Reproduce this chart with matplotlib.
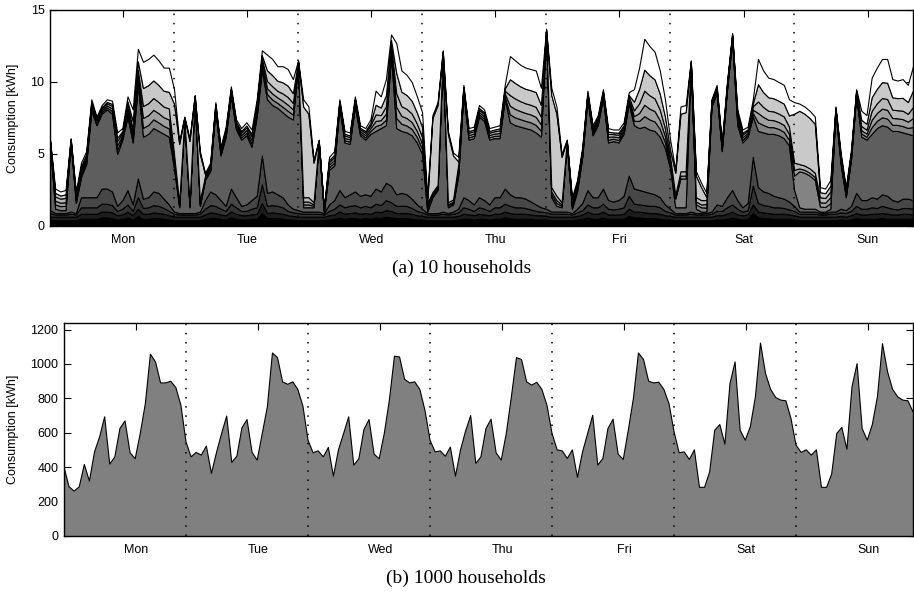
import matplotlib
matplotlib.use('Agg')
import matplotlib.pyplot as plt
import numpy as np

days = ['Mon', 'Tue', 'Wed', 'Thu', 'Fri', 'Sat', 'Sun']
hours = np.arange(168)

# ---- 10 households, hourly consumption [kWh] (bottom layer first) ----
h1 = [.4,.4,.4,.4,.4,.4,.5,.5,.5,.5,.6,.6,.55,.45,.5,.6,.45,.7,.5,.5,.55,.55,.5,.45,
      .4,.4,.4,.4,.4,.4,.5,.55,.55,.5,.45,.6,.5,.45,.45,.5,.5,.9,.55,.55,.55,.5,.45,.45,
      .4,.4,.4,.4,.4,.4,.45,.5,.6,.5,.55,.55,.5,.55,.5,.6,.55,.65,.6,.55,.55,.55,.5,.45,
      .45,.4,.4,.4,.4,.4,.4,.45,.5,.5,.45,.5,.5,.45,.5,.5,.6,.55,.5,.5,.5,.5,.45,.45,
      .45,.4,.4,.4,.4,.4,.45,.5,.6,.5,.5,.6,.5,.5,.5,.5,.7,.6,.6,.55,.55,.55,.5,.45,
      .45,.4,.4,.4,.4,.4,.4,.4,.4,.45,.45,.5,.6,.5,.45,.5,.9,.6,.55,.55,.5,.5,.5,.5,
      .45,.4,.4,.4,.4,.4,.4,.4,.4,.45,.4,.45,.55,.5,.5,.5,.5,.55,.5,.5,.5,.5,.5,.5]
h2 = [.25,.25,.25,.25,.25,.25,.35,.35,.35,.35,.4,.4,.4,.3,.3,.4,.3,.5,.35,.35,.4,.35,.35,.3,
      .25,.25,.25,.25,.25,.25,.3,.4,.35,.3,.3,.4,.35,.3,.3,.3,.35,.7,.35,.4,.35,.35,.3,.25,
      .25,.25,.25,.25,.25,.25,.3,.3,.4,.35,.35,.4,.35,.35,.35,.4,.4,.45,.45,.35,.35,.35,.35,.3,
      .25,.25,.25,.25,.25,.25,.25,.25,.35,.3,.3,.35,.3,.3,.35,.35,.4,.35,.35,.35,.35,.3,.3,.3,
      .25,.25,.25,.25,.25,.25,.25,.3,.4,.35,.35,.4,.3,.3,.3,.35,.5,.4,.4,.4,.35,.35,.35,.3,
      .25,.25,.25,.25,.25,.25,.25,.25,.25,.3,.3,.35,.4,.3,.3,.3,.6,.4,.4,.35,.35,.35,.35,.3,
      .3,.25,.25,.25,.25,.25,.25,.25,.25,.25,.25,.3,.35,.3,.3,.35,.35,.35,.35,.3,.3,.35,.35,.3]
h3 = [.25,.15,.15,.15,.2,.15,.45,.45,.45,.45,.55,.55,.5,.3,.4,.5,.3,.8,.4,.45,.5,.5,.4,.3,
      .2,.15,.15,.15,.15,.2,.4,.5,.5,.4,.3,.55,.45,.3,.3,.4,.45,1.3,.5,.5,.5,.45,.3,.25,
      .25,.2,.2,.2,.2,.15,.3,.4,.5,.45,.5,.5,.45,.5,.45,.55,.5,.7,.6,.5,.5,.5,.4,.3,
      .25,.15,.15,.15,.2,.15,.2,.25,.45,.4,.3,.45,.4,.3,.45,.45,.55,.5,.45,.45,.4,.35,.3,.25,
      .25,.2,.2,.2,.2,.15,.25,.3,.5,.45,.45,.55,.4,.35,.4,.45,.9,.55,.5,.5,.5,.5,.45,.3,
      .25,.15,.15,.15,.2,.15,.15,.15,.2,.3,.3,.45,.5,.4,.25,.3,1.3,.6,.5,.5,.45,.45,.4,.35,
      .3,.2,.2,.2,.2,.15,.15,.2,.2,.25,.25,.3,.5,.4,.4,.45,.4,.5,.45,.4,.35,.4,.4,.4]
h4 = [.2,.1,.1,.1,.15,.1,.7,.7,.7,.7,1.05,1.05,.95,.35,.6,1.0,.45,1.3,.65,.7,.95,.9,.65,.45,
      .15,.1,.1,.1,.1,.15,.6,.95,.8,.6,.35,1.05,.7,.35,.45,.6,.8,2.0,.9,.95,.8,.7,.45,.25,
      .2,.15,.15,.15,.15,.1,.45,.6,1.0,.7,.8,.95,.8,.8,.8,1.05,.95,1.2,1.15,.8,.9,.8,.65,.45,
      .25,.1,.1,.1,.15,.1,.15,.25,.7,.6,.45,.7,.6,.45,.7,.7,1.05,.8,.7,.7,.65,.55,.45,.3,
      .25,.15,.15,.15,.15,.1,.25,.5,1.0,.7,.7,1.05,.6,.55,.6,.8,1.4,1.05,1.0,.95,.9,.8,.7,.45,
      .25,.1,.1,.1,.15,.1,.1,.1,.15,.45,.35,.7,1.0,.6,.3,.5,2.0,1.1,.95,.9,.8,.7,.65,.55,
      .35,.15,.15,.15,.15,.1,.1,.15,.15,.25,.2,.35,.9,.6,.6,.7,.65,.8,.8,.6,.55,.65,.65,.6]
h5 = [4.6,.3,.2,.2,4.8,.7,1.4,2.3,6.0,5.0,5.2,5.5,5.4,3.6,4.2,5.1,4.3,6.5,4.3,4.4,4.4,4.3,4.5,4.7,
      3.0,.4,6.4,.4,7.9,.4,1.4,1.4,5.8,3.1,4.8,6.4,4.7,4.6,4.8,3.7,5.5,5.9,6.5,6.0,6.0,5.9,6.1,6.2,
      10.1,.3,.3,.3,4.7,.1,2.4,2.4,5.7,3.8,3.5,5.9,4.2,3.8,4.3,4.0,4.4,4.0,9.0,4.6,4.3,4.3,4.4,4.3,
      3.8,.1,1.1,1.6,10.8,.4,.5,2.3,7.2,4.2,4.6,5.6,5.5,4.5,4.1,4.1,6.2,5.0,5.0,4.9,4.9,5.0,5.0,4.9,
      12.1,1.0,.4,.3,4.7,.3,1.2,3.2,6.3,4.3,5.0,6.3,4.0,4.2,4.0,4.3,5.0,4.4,4.3,4.5,4.4,4.4,4.2,3.9,
      2.8,.4,.4,.4,10.2,.3,.1,.1,7.3,7.7,3.8,7.4,10.4,5.2,4.5,4.6,2.8,3.9,4.1,4.1,4.3,4.3,4.2,3.9,
      1.1,.3,.2,.2,.2,.1,.1,.2,6.9,3.1,.9,3.2,6.7,4.4,4.2,4.4,4.9,4.8,4.8,4.8,4.9,4.6,4.5,4.5]
h6 = [.06,.3,.28,.3,.06,.16,.2,.18,.16,.12,.12,.14,.18,.3,.16,.28,.28,.3,.62,.62,.61,.59,.55,.58,
      .3,.1,.06,.1,.06,.1,.1,.12,.12,.12,.14,.14,.14,.16,.18,.24,.24,.28,.37,.38,.35,.38,.4,.34,
      .06,.2,.2,.1,.06,.04,.18,.2,.12,.16,.16,.14,.14,.16,.2,.34,.26,.38,.3,.71,.5,.48,.44,.38,
      .35,.2,.1,.1,.08,.1,.1,.26,.12,.16,.16,.16,.16,.16,.16,.18,.2,.55,.54,.52,.5,.5,.52,.41,
      .08,.2,.2,.1,.06,.16,.16,.14,.12,.14,.14,.12,.2,.16,.18,.16,.16,.3,.5,.73,.7,.66,.55,.41,
      .24,.6,2.0,2.0,.06,.3,.3,.28,.1,.12,.12,.12,.1,.22,.18,.14,.24,.6,.52,.47,.46,.44,.44,.38,
      1.0,2.5,2.5,2.3,2.0,.35,.32,.4,.08,.16,.14,.14,.1,.22,.2,.47,.5,.55,.56,.43,.42,.44,.41,.58]
h7 = [.06,.25,.24,.25,.06,.16,.2,.18,.16,.12,.12,.14,.18,.3,.16,.28,.3,.33,.68,.68,.66,.64,.6,.62,
      .3,.1,.06,.1,.06,.1,.1,.12,.12,.12,.14,.14,.14,.16,.18,.24,.24,.28,.4,.42,.38,.42,.43,.36,
      .06,.2,.2,.1,.06,.04,.18,.2,.12,.16,.16,.14,.14,.16,.2,.36,.29,.42,.3,.77,.55,.52,.48,.42,
      .38,.2,.1,.1,.08,.1,.1,.26,.12,.16,.16,.16,.16,.16,.16,.18,.2,.6,.59,.56,.55,.55,.56,.44,
      .08,.2,.2,.1,.06,.16,.16,.14,.12,.14,.14,.12,.2,.16,.18,.16,.16,.33,.55,.79,.75,.72,.6,.44,
      .26,.1,.2,.2,.06,.2,.2,.24,.1,.12,.12,.12,.1,.22,.18,.14,.24,.65,.56,.51,.49,.48,.48,.42,
      .4,.2,.2,.2,.2,.3,.3,.4,.08,.16,.14,.14,.1,.23,.22,.51,.55,.6,.61,.47,.46,.48,.44,.62]
h8 = [.06,.3,.28,.3,.06,.16,.2,.18,.16,.12,.12,.14,.18,.3,.16,.28,.37,.4,.83,.83,.82,.78,.74,.77,
      .4,.15,.06,.15,.06,.15,.1,.12,.12,.12,.14,.14,.14,.16,.18,.24,.24,.28,.5,.51,.46,.51,.53,.45,
      .06,.3,.3,.15,.06,.04,.18,.2,.12,.16,.16,.14,.14,.16,.2,.45,.35,.51,.3,.94,.67,.64,.59,.51,
      .46,.2,.15,.15,.08,.15,.15,.26,.12,.16,.16,.16,.16,.16,.16,.18,.2,.74,.72,.69,.67,.67,.69,.54,
      .08,.3,.3,.15,.06,.16,.16,.14,.12,.14,.14,.12,.2,.16,.18,.16,.16,.4,.67,.98,.93,.88,.74,.54,
      .32,.15,.3,.3,.06,.3,.3,.28,.1,.12,.12,.12,.1,.22,.18,.14,.24,.8,.69,.62,.61,.59,.59,.51,
      .5,.3,.3,.3,.3,.35,.32,.4,.08,.16,.14,.14,.1,.29,.27,.62,.67,.74,.75,.58,.56,.59,.54,.77]
h9 = [.06,.25,.22,.25,.06,.12,.15,.14,.12,.09,.09,.1,.14,.22,.12,.21,.55,.6,1.25,1.25,1.22,1.18,1.1,1.15,
      3.5,4.05,.06,4.25,.06,3.25,.08,.09,.09,.09,.1,.1,.1,.12,.14,.18,.18,.21,.74,.77,.7,.77,.79,.67,
      .06,6.3,5.8,2.75,.06,.04,.14,.15,.09,.12,.12,.1,.1,.12,.15,.67,.53,.77,.22,1.42,1.01,.96,.89,.77,
      .7,.15,5.15,5.55,.08,4.75,3.05,.2,.09,.12,.12,.12,.12,.12,.12,.14,.15,1.1,1.08,1.03,1.01,1.01,1.03,.82,
      .08,6.4,5.7,3.15,.06,.12,.12,.1,.09,.1,.1,.09,.15,.12,.14,.12,.12,.6,1.01,1.46,1.39,1.32,1.1,.82,
      .48,1.55,4.0,4.1,.06,1.5,.9,.22,.1,.09,.09,.09,.1,.17,.14,.1,.18,1.2,1.03,.94,.91,.89,.89,.77,
      3.4,3.7,3.6,3.5,3.4,.35,.34,.4,.08,.12,.1,.1,.1,.43,.41,.94,1.01,1.1,1.13,.86,.84,.89,.82,1.15]
h10 = [.06,.3,.28,.3,.06,.2,.25,.22,.2,.15,.15,.18,.22,.38,.2,.35,.8,.87,1.82,1.82,1.79,1.71,1.61,1.68,
       1.0,.2,.06,.2,.06,.2,.12,.15,.15,.15,.18,.18,.18,.2,.22,.3,.3,.35,1.09,1.12,1.01,1.12,1.15,.98,
       .06,.5,.5,.2,.06,.04,.22,.25,.15,.2,.2,.18,.18,.2,.25,.98,.77,1.12,.38,2.06,1.47,1.4,1.3,1.12,
       1.01,.25,.2,.2,.08,.2,.2,.32,.15,.2,.2,.2,.2,.2,.2,.22,.25,1.61,1.57,1.5,1.47,1.47,1.5,1.19,
       .08,.5,.5,.2,.06,.2,.2,.18,.15,.18,.18,.15,.25,.2,.22,.2,.2,.87,1.47,2.14,2.03,1.92,1.61,1.19,
       .7,.2,.5,.5,.06,.3,.3,.28,.1,.15,.15,.15,.1,.27,.22,.18,.3,1.75,1.5,1.36,1.33,1.3,1.3,1.12,
       .8,.5,.5,.5,.5,.35,.32,.4,.08,.2,.18,.18,.1,.63,.6,1.36,1.47,1.61,1.65,1.26,1.22,1.3,1.19,1.68]

# ---- 1000 households aggregate [kWh] ----
agg1000 = [400,286,261,286,416,319,489,576,693,418,460,625,669,484,449,596,770,1057,1012,890,890,900,863,760,
           547,460,486,470,523,364,486,596,697,428,464,629,677,486,441,596,751,1064,1037,896,882,896,852,755,
           557,484,495,460,515,348,503,596,693,412,449,619,677,476,449,596,790,1045,1041,911,890,896,852,731,
           557,489,495,464,517,348,501,611,700,422,460,625,679,484,441,596,809,1037,1026,896,877,894,852,760,
           596,501,495,451,501,341,489,596,702,412,451,625,679,476,445,615,799,1064,1026,900,890,894,852,770,
           606,484,489,445,501,283,283,373,615,648,534,886,1012,615,557,635,809,1122,944,852,805,790,786,683,
           528,486,501,470,501,283,283,360,596,631,505,867,1002,625,557,648,809,1118,954,852,809,790,786,722]

layer_colors = ['#000000', '#1c1c1c', '#333333', '#474747', '#5e5e5e',
                '#838383', '#a0a0a0', '#b9b9b9', '#c9c9c9', '#ffffff']
day_ticks = [14.2 + 24 * k for k in range(7)]
day_bounds = [24 * k for k in range(1, 7)]

plt.rcParams['font.family'] = ['Liberation Sans', 'DejaVu Sans']
plt.rcParams['font.size'] = 9

fig = plt.figure(figsize=(9.14, 5.92), dpi=100)
fig.patch.set_facecolor('white')

ax1 = fig.add_axes([50 / 914, 366 / 592, 863 / 914, 216 / 592])
ax2 = fig.add_axes([64 / 914, 56 / 592, 849 / 914, 213.3 / 592])

ax1.stackplot(hours, h1, h2, h3, h4, h5, h6, h7, h8, h9, h10,
              colors=layer_colors, edgecolor='black', linewidth=0.8, zorder=1)
ax1.set_xlim(0, 167)
ax1.set_ylim(0, 15)
ax1.set_yticks([0, 5, 10, 15])

ax2.fill_between(hours, 0, agg1000, facecolor='#808080', edgecolor='none', zorder=1)
ax2.plot(hours, agg1000, color='black', lw=0.8, zorder=2)
ax2.set_xlim(0, 167)
ax2.set_ylim(0, 1240)
ax2.set_yticks([0, 200, 400, 600, 800, 1000, 1200])

for ax in (ax1, ax2):
    ax.set_axisbelow(True)
    ax.set_xticks(day_ticks)
    ax.set_xticklabels(days)
    ax.tick_params(axis='x', direction='in', length=5, width=0.8, top=True, bottom=False,
                   labelbottom=True, pad=6, labelsize=9)
    ax.tick_params(axis='y', direction='in', length=5, width=0.8, left=True, right=True,
                   pad=4, labelsize=9)
    for s in ax.spines.values():
        s.set_linewidth(1.0)
        s.set_zorder(4)
    for b in day_bounds:
        ax.axvline(b, color='black', linestyle=(0, (1.0, 5.0)), lw=1.1, zorder=3)

fig.text(13 / 914, 1 - 118 / 592, 'Consumption [kWh]', rotation=90, ha='center', va='center', fontsize=9)
fig.text(13 / 914, 1 - 429 / 592, 'Consumption [kWh]', rotation=90, ha='center', va='center', fontsize=9)

fig.text(462 / 914, 1 - 268 / 592, '(a) 10 households', ha='center', va='center',
         fontsize=14, family=['Liberation Serif', 'DejaVu Serif'])
fig.text(466 / 914, 1 - 578 / 592, '(b) 1000 households', ha='center', va='center',
         fontsize=14, family=['Liberation Serif', 'DejaVu Serif'])

fig.savefig('out.png', dpi=100, facecolor='white')
